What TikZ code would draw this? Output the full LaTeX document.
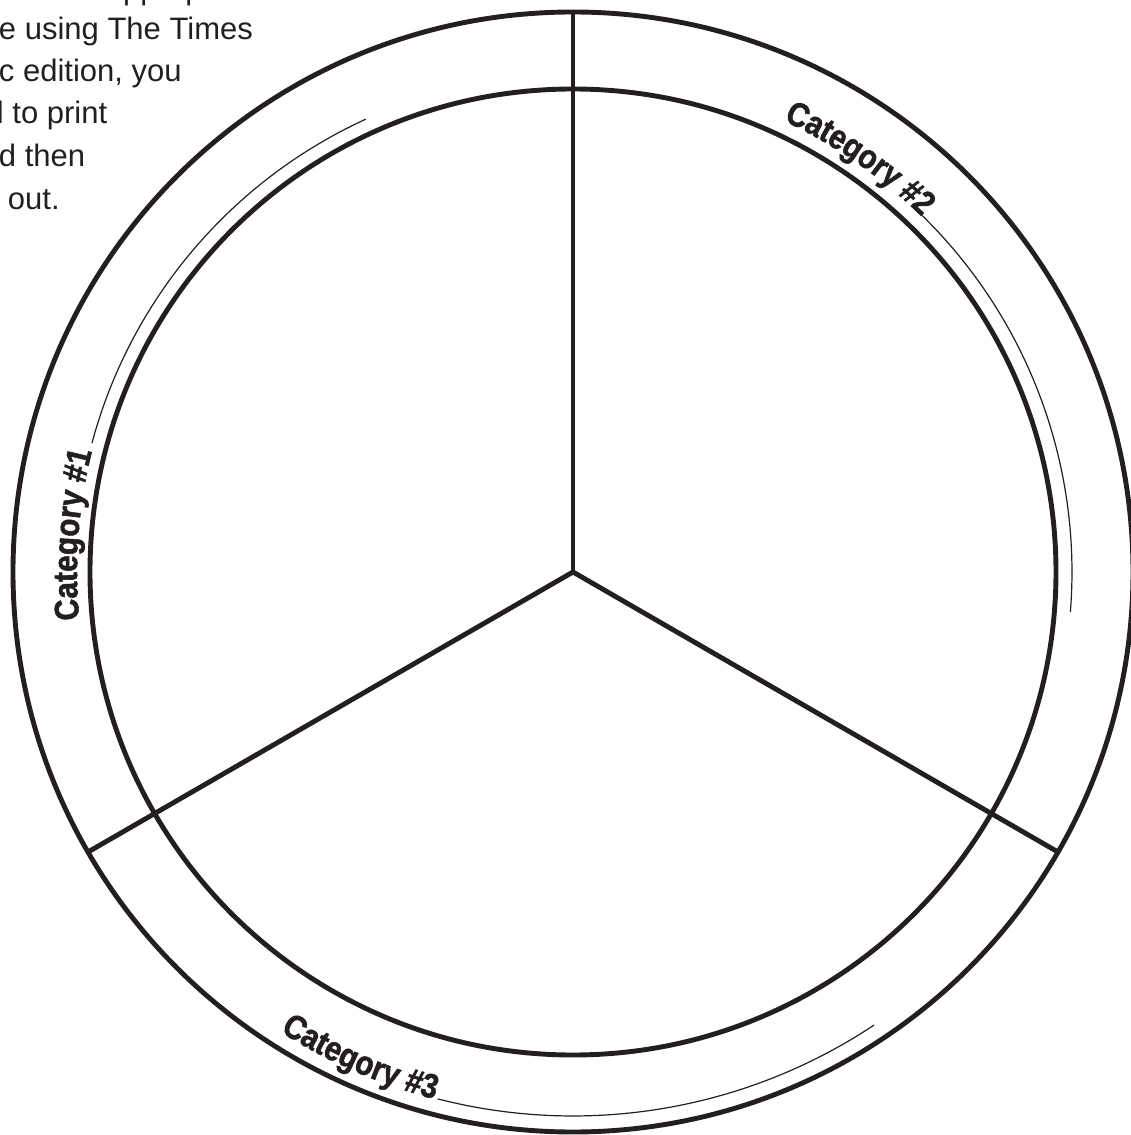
\documentclass[tikz,border=0pt]{standalone}
\usepackage{fontspec}
\setmainfont{Liberation Sans}
\newfontfamily\catfont{Liberation Sans Bold}[FakeStretch=0.87,FakeBold=1.6]
\usetikzlibrary{decorations.text}
\definecolor{ink}{HTML}{231F20}
\newcommand\catstyle{\catfont\fontsize{34}{40}\selectfont}
\newcommand\notestyle{\fontsize{31}{37}\selectfont}
\begin{document}
\begin{tikzpicture}[x=1pt,y=1pt,
  thickline/.style={draw=ink,line width=4.9pt},
  thinline/.style={draw=ink,line width=1.2pt},
  note/.style={anchor=base west,inner sep=0pt,outer sep=0pt,text=ink,font=\notestyle},
  catlabel/.style={decorate,decoration={text along path,text color=ink,text align=left,text={#1}}}]
\useasboundingbox (-573,-563) rectangle (558,572);
\clip (-573,-563) rectangle (558,572);
% rings
\coordinate (c) at (0,0);
\draw[thickline] (c) circle[radius=560];
\draw[thickline] (c) circle[radius=483];
% spokes
\coordinate (s1) at (90:560);
\coordinate (s2) at (210:560);
\coordinate (s3) at (330:560);
\draw[thickline] (c) -- (s1);
\draw[thickline] (c) -- (s2);
\draw[thickline] (c) -- (s3);
% category labels
\path[catlabel={|\catstyle|Category {\#}1}] (185.5:496) arc[start angle=185.5,end angle=150,radius=496];
\draw[thinline] (165:498) arc[start angle=165,end angle=114.6,radius=498];
\path[catlabel={|\catstyle|Category {\#}2}] (65:498) arc[start angle=65,end angle=30,radius=498];
\draw[thinline] (45.6:499) arc[start angle=45.6,end angle=-4.6,radius=499];
\path[catlabel={|\catstyle|Category {\#}3}] (237.5:545) arc[start angle=237.5,end angle=275,radius=545];
\draw[thinline] (255.6:544) arc[start angle=255.6,end angle=303.6,radius=544];
% clipped note text
\node[note] (n1) at (-467,572) {appropriate};
\node[note] (n2) at (-574,532) {e using The Times};
\node[note] (n3) at (-574,490) {c edition, you};
\node[note] (n4) at (-576,448) {l to print};
\node[note] (n5) at (-574,405) {d then};
\node[note] (n6) at (-565,362) {out.};
\end{tikzpicture}
\end{document}
